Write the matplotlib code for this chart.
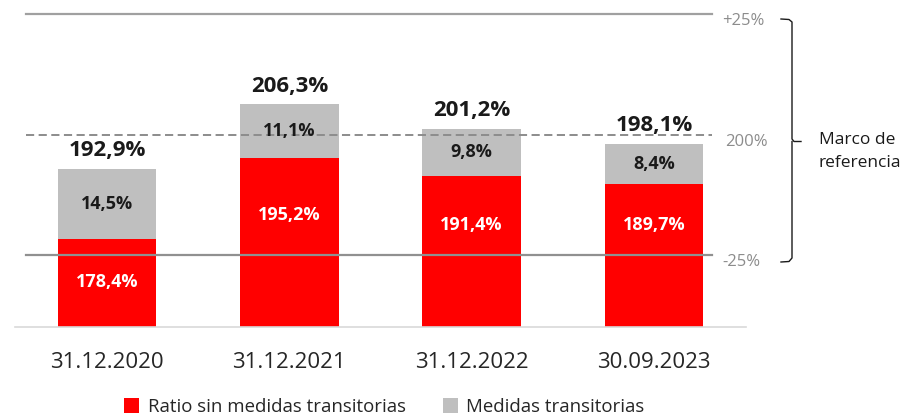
import matplotlib
matplotlib.use("Agg")
import matplotlib.pyplot as plt
from matplotlib.patches import Patch
from matplotlib.lines import Line2D

plt.rcParams['font.family'] = ['Open Sans', 'DejaVu Sans']

categories = ["31.12.2020", "31.12.2021", "31.12.2022", "30.09.2023"]
ratio_sin = [178.4, 195.2, 191.4, 189.7]
medidas = [14.5, 11.1, 9.8, 8.4]
totals = [192.9, 206.3, 201.2, 198.1]
red_label_pos = [169.3, 183.2, 181.3, 181.3]
ref_levels = [225, 200, 175]
ref_labels = ["+25%", "200%", "-25%"]
legend_labels = ["Ratio sin medidas transitorias", "Medidas transitorias"]

RED = "#FF0000"
GREY = "#BFBFBF"

def fmt(v):
    return f"{v:.1f}%".replace(".", ",")

fig = plt.figure(figsize=(9.03, 4.17), dpi=100)
W, H = 903, 417
ax = fig.add_axes([15 / W, 1 - 327 / H, (746 - 15) / W, 327 / H])
ax.set_xlim(-0.505, 3.505)
ax.set_ylim(160, 228)

x = list(range(len(categories)))
bw = 0.54
ax.bar(x, [r - 160 for r in ratio_sin], bottom=160, width=bw, color=RED, zorder=2)
ax.bar(x, medidas, bottom=ratio_sin, width=bw, color=GREY, zorder=2)

# reference lines
ax.axhline(ref_levels[0], xmin=11 / 731, xmax=697 / 731, color="#a0a0a0", lw=1.6, zorder=1)
ax.axhline(ref_levels[1], xmin=11 / 731, xmax=697 / 731, color="#8c8c8c", lw=1.4,
           ls=(0, (4.2, 2.3)), zorder=3)
ax.axhline(ref_levels[2], xmin=11 / 731, xmax=697 / 731, color="#909090", lw=1.6, zorder=3)

trans = ax.get_yaxis_transform()
for lvl, lab, xs in zip(ref_levels, ref_labels, [0.967, 0.971, 0.967]):
    ax.annotate(lab, xy=(xs, lvl), xycoords=trans, xytext=(0, -5), textcoords="offset points",
                ha="left", va="center", fontsize=12, color="#8c8c8c", annotation_clip=False)

# labels
for i in x:
    ax.text(i, red_label_pos[i], fmt(ratio_sin[i]), ha="center", va="center",
            color="white", fontsize=13, fontweight="bold", zorder=4)
    ax.text(i, ratio_sin[i] + medidas[i] / 2, fmt(medidas[i]), ha="center", va="center",
            color="#1a1a1a", fontsize=13, fontweight="bold", zorder=4)
    ax.annotate(fmt(totals[i]), xy=(i, totals[i]), xytext=(0, 13), textcoords="offset points",
                ha="center", va="center", fontsize=16, fontweight="bold", color="#1a1a1a")

ax.set_xticks(x)
ax.set_xticklabels(categories, fontsize=16, color="#262626")
ax.tick_params(axis="x", length=0, pad=18)
ax.set_yticks([])
for s in ["top", "left", "right"]:
    ax.spines[s].set_visible(False)
ax.spines["bottom"].set_color("#d9d9d9")
ax.spines["bottom"].set_linewidth(1.2)

# brace
def P(px, py):
    return (px / W, 1 - py / H)

brace = [P(781, 19), P(789, 19.5), P(792, 22), P(792, 139), P(794, 141.5), P(801, 141.5)]
brace2 = [P(792, 141.5), P(792, 258), P(789, 261.5), P(781, 262)]
for pts in (brace, brace2):
    fig.add_artist(Line2D([p[0] for p in pts], [p[1] for p in pts], color="#1a1a1a", lw=1.0))

fig.text(819 / W, 1 - 140 / H, "Marco de", fontsize=12.5, va="center", ha="left", color="#1a1a1a")
fig.text(819 / W, 1 - 163 / H, "referencia", fontsize=12.5, va="center", ha="left", color="#1a1a1a")

handles = [Patch(facecolor=RED), Patch(facecolor=GREY)]
fig.legend(handles, legend_labels, loc="center", bbox_to_anchor=(384.5 / W, 1 - 407 / H),
           ncol=2, frameon=False, fontsize=13.4, handlelength=0.8, handleheight=0.8,
           handletextpad=0.45, columnspacing=2.0, labelcolor="#262626")

fig.savefig("out.png", dpi=100)
